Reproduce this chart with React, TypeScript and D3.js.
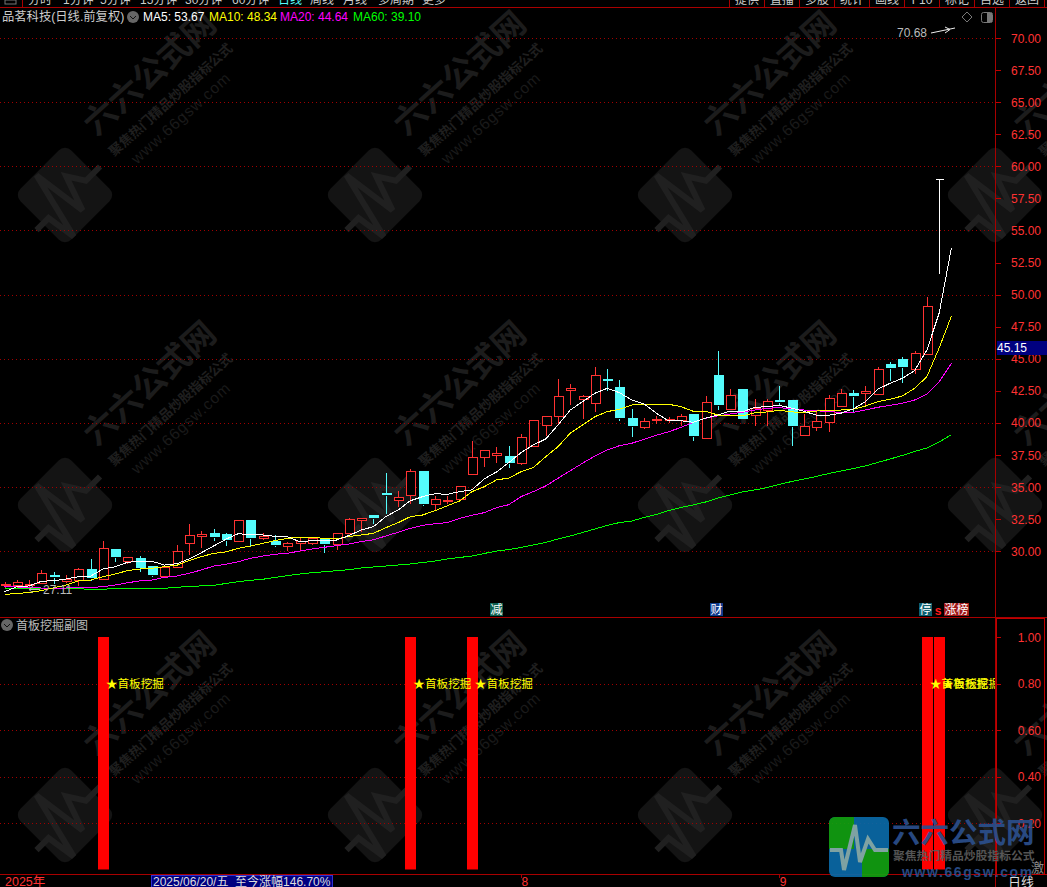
import React from "react";
import * as d3 from "d3";

const WIDTH = 1047;
const HEIGHT = 887;

// daily candles
const opens = [27.42,27.40,27.42,27.51,28.15,27.71,27.76,28.62,27.86,30.18,29.24,29.48,28.85,28.10,28.80,30.67,31.22,31.43,31.35,30.83,32.44,31.06,30.80,30.44,30.65,30.67,30.94,30.59,31.43,32.44,32.83,34.54,34.02,34.41,36.24,33.71,33.98,34.05,36.05,37.33,37.53,37.43,36.91,38.23,39.82,40.52,42.60,41.87,41.58,43.41,42.81,40.39,39.69,40.29,40.29,40.21,40.70,38.85,43.74,41.11,42.65,40.60,41.01,41.79,41.79,39.06,39.69,40.08,41.35,42.34,42.34,42.28,44.60,44.99,44.21,45.38,58.99];
const closes = [27.44,27.63,27.44,28.29,28.00,27.82,28.60,27.94,30.23,29.56,29.53,28.70,28.15,28.80,30.00,31.25,31.32,31.11,30.88,32.42,31.04,31.19,30.49,30.62,30.78,31.01,30.57,31.40,32.49,32.57,32.62,34.41,34.21,36.24,33.71,34.05,34.03,35.07,37.33,37.87,37.64,36.88,38.89,40.21,40.52,42.08,42.73,42.08,43.72,43.33,40.39,39.77,40.13,40.31,40.30,40.52,38.99,41.61,41.40,42.16,40.31,41.17,41.69,41.64,39.77,39.74,40.13,41.92,42.31,42.10,42.49,44.19,44.29,44.39,45.46,49.12,58.99];
const highs = [27.66,27.84,27.84,28.62,28.46,28.23,28.78,29.48,30.88,30.26,29.53,29.71,28.85,28.99,30.57,32.21,31.66,31.82,31.50,32.52,32.44,31.50,31.35,30.80,31.11,31.11,31.04,31.43,32.67,32.67,32.83,36.18,34.78,36.47,36.24,34.36,34.36,35.17,38.67,37.87,38.21,38.29,39.22,40.29,40.52,43.51,43.12,42.26,44.44,44.26,43.43,41.17,40.47,40.62,40.55,40.78,40.70,42.18,45.69,42.73,42.73,41.95,41.95,42.96,41.79,40.76,41.01,42.26,42.73,42.65,42.96,44.44,44.83,45.22,45.69,49.90,58.99];
const lows = [27.24,27.24,27.11,27.51,27.55,27.63,27.40,27.76,27.86,29.24,29.09,28.46,28.07,28.10,28.80,29.79,30.34,30.88,30.49,30.83,30.41,30.96,30.41,30.10,30.18,30.57,29.95,30.18,31.43,31.58,32.18,33.01,33.53,33.76,33.61,33.27,33.76,34.05,36.05,36.65,36.98,36.57,36.78,38.23,39.04,39.92,41.48,40.39,40.93,42.55,40.23,38.99,39.61,40.00,40.05,39.84,38.67,38.85,41.09,41.11,40.31,39.84,39.84,41.40,38.29,39.06,39.45,39.38,41.35,40.86,41.40,42.28,43.35,43.19,43.90,45.38,51.69];
// the last candle is drawn white in the terminal
const whiteCandles = [76];

const ma5 = [26.85,27.24,27.30,27.66,27.71,27.84,28.02,28.07,28.62,28.80,29.14,29.22,29.22,28.93,29.03,29.40,29.89,30.41,30.94,31.37,31.29,31.27,31.17,31.14,30.75,30.83,30.83,30.88,31.23,31.66,31.92,32.70,33.22,33.94,34.26,34.49,34.44,34.65,34.78,35.64,36.18,36.91,37.69,38.29,38.75,39.84,41.01,41.66,42.31,42.70,42.36,41.79,41.48,40.76,40.16,40.18,40.05,40.37,40.62,40.93,40.86,41.22,41.27,41.38,41.15,40.91,40.62,40.60,40.76,41.09,41.66,42.63,43.09,43.48,44.08,45.69,48.57,53.67];
const ma10 = [26.65,26.70,26.80,26.93,27.16,27.37,27.69,27.76,28.02,28.23,28.49,28.62,28.68,28.80,28.91,29.27,29.58,29.84,29.95,30.23,30.41,30.62,30.83,31.01,31.09,31.09,31.01,30.98,31.15,31.27,31.40,31.84,32.23,32.70,32.83,33.16,33.55,33.92,34.65,35.03,35.56,35.71,36.20,36.52,37.37,38.15,39.20,39.84,40.49,40.88,41.07,41.40,41.46,41.46,41.46,41.27,40.91,40.91,40.62,40.55,40.55,40.80,40.86,40.99,40.86,40.83,40.93,40.99,41.01,41.07,41.32,41.66,41.85,42.10,42.70,43.61,45.85,48.34];
const ma20 = [27.24,27.22,27.18,27.14,27.14,27.14,27.16,27.18,27.24,27.37,27.55,27.69,27.76,27.97,28.07,28.29,28.54,28.85,28.99,29.19,29.45,29.63,29.77,29.84,30.02,30.18,30.31,30.44,30.57,30.75,30.90,31.19,31.48,31.79,32.03,32.15,32.23,32.57,32.81,33.01,33.40,33.63,34.26,34.65,35.09,35.69,36.28,36.86,37.43,37.90,38.23,38.42,38.73,39.04,39.32,39.65,40.05,40.37,40.55,40.70,40.83,41.01,41.15,41.19,41.11,41.01,40.96,40.88,40.83,40.83,41.01,41.22,41.38,41.54,41.79,42.24,43.22,44.64];
const ma60 = [27.10,27.10,27.10,27.10,27.10,27.10,27.08,27.04,27.04,27.10,27.12,27.12,27.12,27.12,27.19,27.27,27.30,27.35,27.49,27.63,27.74,27.82,27.97,28.10,28.23,28.33,28.41,28.49,28.57,28.70,28.78,28.85,28.93,29.01,29.13,29.24,29.40,29.52,29.63,29.83,30.02,30.14,30.30,30.49,30.69,30.96,31.19,31.47,31.74,32.01,32.24,32.36,32.63,32.87,33.18,33.41,33.61,33.84,34.15,34.39,34.62,34.78,34.97,35.21,35.44,35.63,35.83,36.06,36.26,36.45,36.65,36.92,37.19,37.47,37.78,38.05,38.52,39.10];

const maLegend = ["MA5: 53.67", "MA10: 48.34", "MA20: 44.64", "MA60: 39.10"];
const priceTicks = [30,32.5,35,37.5,40,42.5,45,47.5,50,52.5,55,57.5,60,62.5,65,67.5,70];
const priceGrid = [30,35,40,45,50,55,60,65,70];

// sub chart: days where the signal fires
const signalDays = [8, 33, 38, 75, 76];
const signalLabel = "★首板挖掘";
const subTicks = [0.2, 0.4, 0.6, 0.8, 1];
const subGrid = [0.2, 0.4, 0.6, 0.8];

const toolbarLeft = ["分时","1分钟","5分钟","15分钟","30分钟","60分钟","日线","周线","月线","多周期","更多"];
const toolbarRight = ["提供","直播","多股","统计","画线","F10","标记","自选","返回"];
const monthLabels: [number, string][] = [[42, "8"], [63, "9"]];

const wmCols = [65, 375, 685, 995];
const wmRows = [195, 505, 815];
const pulsePts: [number, number][] = [[-29,3],[-18,3],[-15,23],[-4,-22],[1,15],[9,-8],[16,3],[29,3]];

const FONT = "'Liberation Sans','Noto Sans CJK SC',sans-serif";
const RED = "#ff3232";
const CYAN = "#54fcfc";
const LINE_RED = "#a80000";
const AXIS_X = 996;

const x = d3.scaleLinear().domain([0, 77]).range([4.5, 951.5]);
const y = d3.scaleLinear().domain([30, 70]).range([551.3, 38]);
const ySub = d3.scaleLinear().domain([0, 1]).range([869.5, 637]);
const px = (i: number) => Math.round(x(i)) + 0.5;
const snap = (v: number) => Math.round(v) + 0.5;

const maLine = d3
  .line<number>()
  .x((_, i) => x(i))
  .y((d) => y(d));

const pulse = d3.line<[number, number]>();

function Watermark({ cx, cy }: { cx: number; cy: number }) {
  const s = 1.55;
  const pts = pulsePts.map(([a, b]) => [a * s, b * s] as [number, number]);
  return (
    <g transform={`translate(${cx},${cy})`}>
      <g transform="rotate(-45)">
        <rect x={-36} y={-36} width={72} height={72} rx={9} fill="#141414" />
        <path d={pulse(pts) || ""} fill="none" stroke="#202020" strokeWidth={6} />
      </g>
      <g transform="translate(31,-58) rotate(-42)" fill="#1c1c1c" fontFamily={FONT} fontWeight="bold">
        <text fontSize={33}>六六公式网</text>
        <text x={0} y={27} fontSize={13.4} fill="#1f1f1f">聚焦热门精品炒股指标公式</text>
        <text x={12} y={48} fontSize={15.5} fill="#1a1a1a" fontWeight="normal" letterSpacing={1}>www.66gsw.com</text>
      </g>
    </g>
  );
}

function ChevronIcon({ cx, cy }: { cx: number; cy: number }) {
  return (
    <g>
      <circle cx={cx} cy={cy} r={6} fill="#666" />
      <path d={`M${cx - 3},${cy - 1} L${cx},${cy + 2} L${cx + 3},${cy - 1}`} fill="none" stroke="#111" strokeWidth={1} />
    </g>
  );
}

function Logo() {
  const pts = pulsePts.map(([a, b]) => [a + 859, b + 847] as [number, number]);
  return (
    <g opacity={0.92}>
      <clipPath id="logo-clip">
        <rect x={829} y={817} width={60} height={60} rx={6} />
      </clipPath>
      <g clipPath="url(#logo-clip)">
        <rect x={829} y={817} width={60} height={60} fill="#0a6aa8" />
        <rect x={829} y={817} width={25} height={32} fill="#12a012" />
        <rect x={862} y={849} width={27} height={28} fill="#12a012" />
        <path d={pulse(pts) || ""} fill="none" stroke="#8ab0b0" strokeWidth={4} />
      </g>
      <text x={892} y={843} fontFamily={FONT} fontSize={28.5} fontWeight="bold" fill="#2b4f8c">六六公式网</text>
      <text x={893} y={860} fontFamily={FONT} fontSize={11.8} fontWeight="bold" fill="#5c5c5c">聚焦热门精品炒股指标公式</text>
      <text x={902} y={877} fontFamily={FONT} fontSize={14} fontWeight="bold" fill="#2b4f8c" letterSpacing={1.6}>www.66gsw.com</text>
    </g>
  );
}

export default function App() {
  const maSeries: [number[], string][] = [
    [ma60, "#00ff00"],
    [ma20, "#ff00ff"],
    [ma10, "#ffff00"],
    [ma5, "#ffffff"],
  ];
  const legendColors = ["#ffffff", "#ffff00", "#ff00ff", "#00ff00"];
  const legendX = [143, 209, 280, 353];
  const leftX = [28, 63, 100, 140, 185, 232, 278, 310, 343, 378, 422];

  return (
    <svg
      width={WIDTH}
      height={HEIGHT}
      viewBox={`0 0 ${WIDTH} ${HEIGHT}`}
      style={{ position: "absolute", left: 0, top: 0, background: "#000", display: "block" }}
      fontFamily={FONT}
    >
      <rect width={WIDTH} height={HEIGHT} fill="#000" />

      {/* watermark tiles */}
      {wmRows.map((r) => wmCols.map((c) => <Watermark key={`${r}-${c}`} cx={c} cy={r} />))}

      {/* toolbar, cut off by the top of the window */}
      <g fontSize={12} fill="#ccc">
        <rect x={5} y={0} width={11} height={4} fill="none" stroke="#777" />
        {toolbarLeft.map((t, i) => (
          <text key={t} x={leftX[i]} y={4} fill={t === "日线" ? CYAN : "#ccc"}>{t}</text>
        ))}
        {toolbarRight.map((t, i) => (
          <text key={t} x={747 + i * 35} y={4} textAnchor="middle">{t}</text>
        ))}
      </g>
      <g stroke={LINE_RED} shapeRendering="crispEdges">
        <line x1={22.5} x2={22.5} y1={0} y2={7} />
        {toolbarRight.map((t, i) => (
          <line key={t} x1={729.5 + i * 35} x2={729.5 + i * 35} y1={0} y2={7} />
        ))}
        <line x1={1044.5} x2={1044.5} y1={0} y2={7} />
      </g>

      {/* grids */}
      <g stroke="#a00000" strokeDasharray="1 3" shapeRendering="crispEdges">
        {priceGrid.map((v) => (
          <line key={v} x1={0} x2={AXIS_X} y1={snap(y(v))} y2={snap(y(v))} />
        ))}
        {subGrid.map((v) => (
          <line key={v} x1={0} x2={AXIS_X} y1={snap(ySub(v))} y2={snap(ySub(v))} />
        ))}
      </g>

      {/* candles */}
      <g shapeRendering="crispEdges">
        {opens.map((o, i) => {
          const c = closes[i];
          const white = whiteCandles.includes(i);
          const up = c >= o;
          const color = white ? "#ffffff" : up ? RED : CYAN;
          const top = snap(y(Math.max(o, c)));
          const bottom = snap(y(Math.min(o, c)));
          const cx = px(i);
          return (
            <g key={i} stroke={color}>
              <line x1={cx} x2={cx} y1={snap(y(highs[i]))} y2={top} />
              <line x1={cx} x2={cx} y1={bottom} y2={snap(y(lows[i]))} />
              {white ? (
                <line x1={cx - 4} x2={cx + 4} y1={top} y2={top} />
              ) : up ? (
                <rect x={cx - 4.5} y={top} width={9} height={Math.max(bottom - top, 1)} fill="#000" />
              ) : (
                <rect x={cx - 5} y={top - 0.5} width={10} height={Math.max(bottom - top, 2)} fill={color} stroke="none" />
              )}
            </g>
          );
        })}
      </g>

      {/* moving averages */}
      <g fill="none" strokeWidth={1} shapeRendering="crispEdges">
        {maSeries.map(([s, color]) => (
          <path key={color} d={maLine(s) || ""} stroke={color} />
        ))}
      </g>

      {/* high / low notes */}
      <g fontSize={12} fill="#bbb">
        <text x={897} y={37}>70.68</text>
        <path d="M931,33 L955,28 M945,27 L950,29.5 L945,33" fill="none" stroke="#eee" strokeWidth={1} />
        <text x={43} y={594}>27.11</text>
        <path d="M29,589.5 L40,589.5 M33,586 L29,589.5 L33,593" fill="none" stroke="#bbb" strokeWidth={1} />
      </g>

      {/* titles */}
      <text x={2} y={21} fontSize={12.3} fill="#ccc">品茗科技(日线.前复权)</text>
      <ChevronIcon cx={133} cy={17} />
      {maLegend.map((t, i) => (
        <text key={t} x={legendX[i]} y={21} fontSize={12} fill={legendColors[i]}>{t}</text>
      ))}
      <path d="M967,12 L972,17 L967,22 L962,17 Z" fill="none" stroke="#777" />
      <rect x={981.5} y={12.5} width={11} height={10} rx={2} fill="none" stroke="#777" />
      <rect x={987} y={13} width={5} height={9} fill="#777" />

      {/* event tags above the divider */}
      <g fontSize={12} textAnchor="middle" fill="#fff">
        <rect x={490} y={603} width={13} height={13} fill="#0d5f50" />
        <text x={496.5} y={614}>减</text>
        <rect x={710} y={603} width={13} height={13} fill="#103a8c" />
        <text x={716.5} y={614}>财</text>
        <rect x={919} y={603} width={13} height={13} fill="#0d5f70" />
        <text x={925.5} y={614}>停</text>
        <text x={938} y={615} fill="#ff1a1a" fontWeight="bold">s</text>
        <rect x={944} y={603} width={25} height={13} fill="#a01818" />
        <text x={956.5} y={614}>涨榜</text>
      </g>

      {/* sub chart */}
      <ChevronIcon cx={7} cy={625} />
      <text x={16} y={630} fontSize={12} fill="#bbb">首板挖掘副图</text>
      <clipPath id="sub-clip">
        <rect x={0} y={618} width={AXIS_X} height={256} />
      </clipPath>
      <g clipPath="url(#sub-clip)">
        {signalDays.map((d) => (
          <rect key={d} x={Math.round(x(d)) - 5} y={ySub(1)} width={11} height={ySub(0) - ySub(1)} fill="#ff0000" />
        ))}
        {signalDays.map((d) => (
          <text key={d} x={x(d) + 3} y={ySub(0.8) + 4.5} fontSize={11.6} fill="#ffff00">{signalLabel}</text>
        ))}
      </g>

      {/* frames and axes */}
      <g stroke={LINE_RED} shapeRendering="crispEdges" fill="none">
        <line x1={0} x2={WIDTH} y1={7.5} y2={7.5} />
        <line x1={0} x2={WIDTH} y1={617.5} y2={617.5} />
        <line x1={0} x2={WIDTH} y1={874.5} y2={874.5} />
        <line x1={AXIS_X - 0.5} x2={AXIS_X - 0.5} y1={8} y2={HEIGHT} />
        <rect x={996.5} y={618.5} width={48} height={256} stroke="#c00000" />
      </g>
      <g stroke="#c00000" shapeRendering="crispEdges">
        {priceTicks.map((v) => (
          <line key={v} x1={996} x2={1001} y1={snap(y(v))} y2={snap(y(v))} />
        ))}
        {subTicks.map((v) => (
          <line key={v} x1={997} x2={1001} y1={snap(ySub(v))} y2={snap(ySub(v))} />
        ))}
      </g>
      <g fontSize={12} fill={RED} textAnchor="end">
        {priceTicks.map((v) => (
          <text key={v} x={1041} y={y(v) + 4.5}>{v.toFixed(2)}</text>
        ))}
        {subTicks.map((v) => (
          <text key={v} x={1041} y={ySub(v) + 4.5}>{v.toFixed(2)}</text>
        ))}
      </g>

      {/* last price tag */}
      <rect x={997} y={341} width={50} height={14} fill="#000080" />
      <text x={997} y={352} fontSize={12} fill="#fff">45.15</text>

      {/* time axis */}
      <text x={5} y={886} fontSize={12.5} fill={RED}>2025年</text>
      <rect x={151.5} y={875.5} width={181} height={12} fill="#000080" stroke="#3030d0" />
      <text x={153} y={886} fontSize={12} fill="#ddd" style={{ whiteSpace: "pre" }}>2025/06/20/五  至今涨幅146.70%</text>
      {monthLabels.map(([i, t]) => (
        <g key={t}>
          <line x1={px(i)} x2={px(i)} y1={875} y2={878} stroke={LINE_RED} shapeRendering="crispEdges" />
          <text x={x(i) + 0.5} y={886} fontSize={12} fill={RED}>{t}</text>
        </g>
      ))}

      <Logo />
      <text x={1031} y={872} fontSize={13} fill="#8a8a8a">激</text>
      <text x={1008} y={887} fontSize={13} fill="#ddd">日线</text>
    </svg>
  );
}
